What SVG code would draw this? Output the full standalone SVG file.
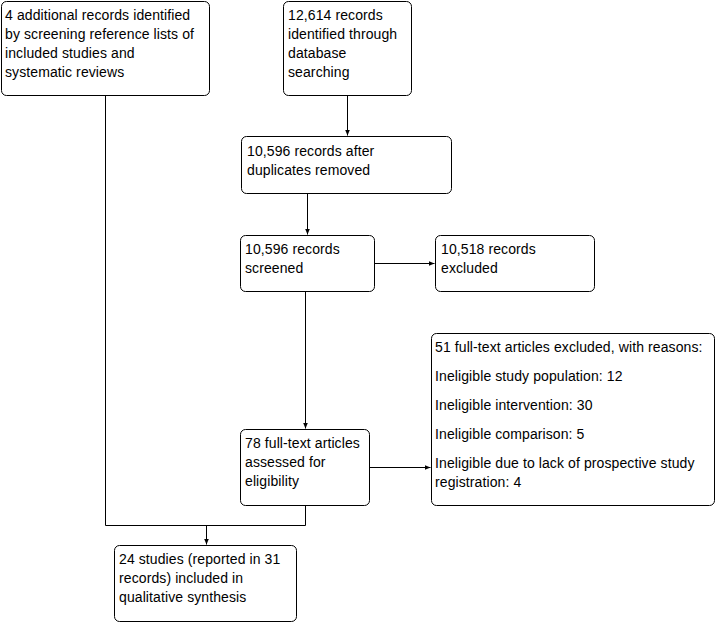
<svg xmlns="http://www.w3.org/2000/svg" width="716" height="623" viewBox="0 0 716 623">
<style>
.box{fill:#fff;stroke:#000;stroke-width:1}
.t{font-family:"Liberation Sans",Arial,sans-serif;font-size:14px;letter-spacing:0.1px;fill:#000}
.c{fill:none;stroke:#000;stroke-width:1}
</style>
<defs>
<marker id="ah" markerWidth="6" markerHeight="6" refX="6" refY="3" orient="auto" markerUnits="userSpaceOnUse">
<path d="M0,0.5 L6,3 L0,5.5 Z" fill="#000"/>
</marker>
</defs>
<rect width="716" height="623" fill="#fff"/>
<g id="connectors">
<path class="c" d="M347.5,95 V135.5" marker-end="url(#ah)"/>
<path class="c" d="M307.5,193 V234.5" marker-end="url(#ah)"/>
<path class="c" d="M374,263.5 H434.5" marker-end="url(#ah)"/>
<path class="c" d="M305.5,291 V428.5" marker-end="url(#ah)"/>
<path class="c" d="M369,467.5 H430.5" marker-end="url(#ah)"/>
<path class="c" d="M105.5,95 V525.5 H305.5 V505"/>
<path class="c" d="M206.5,525.5 V544.5" marker-end="url(#ah)"/>
</g>
<g id="n1">
<rect class="box" x="1.5" y="1.5" width="208" height="94" rx="5"/>
<text class="t" x="5" y="20">4 additional records identified</text>
<text class="t" x="5" y="39">by screening reference lists of</text>
<text class="t" x="5" y="58">included studies and</text>
<text class="t" x="5" y="77">systematic reviews</text>
</g>
<g id="n2">
<rect class="box" x="283.5" y="1.5" width="128" height="94" rx="5"/>
<text class="t" x="288" y="20">12,614 records</text>
<text class="t" x="288" y="39">identified through</text>
<text class="t" x="288" y="58">database</text>
<text class="t" x="288" y="77">searching</text>
</g>
<g id="n3">
<rect class="box" x="241.5" y="136.5" width="210" height="57" rx="5"/>
<text class="t" x="247" y="156">10,596 records after</text>
<text class="t" x="247" y="175">duplicates removed</text>
</g>
<g id="n4">
<rect class="box" x="240.5" y="235.5" width="134" height="56" rx="5"/>
<text class="t" x="245" y="254">10,596 records</text>
<text class="t" x="245" y="273">screened</text>
</g>
<g id="n5">
<rect class="box" x="435.5" y="235.5" width="159" height="56" rx="5"/>
<text class="t" x="441" y="254">10,518 records</text>
<text class="t" x="441" y="273">excluded</text>
</g>
<g id="n6">
<rect class="box" x="431.5" y="333.5" width="283" height="172" rx="5"/>
<text class="t" x="435" y="352">51 full-text articles excluded, with reasons:</text>
<text class="t" x="435" y="381">Ineligible study population: 12</text>
<text class="t" x="435" y="410">Ineligible intervention: 30</text>
<text class="t" x="435" y="439">Ineligible comparison: 5</text>
<text class="t" x="435" y="468">Ineligible due to lack of prospective study</text>
<text class="t" x="435" y="487">registration: 4</text>
</g>
<g id="n7">
<rect class="box" x="240.5" y="429.5" width="129" height="76" rx="5"/>
<text class="t" x="245" y="448">78 full-text articles</text>
<text class="t" x="245" y="467">assessed for</text>
<text class="t" x="245" y="486">eligibility</text>
</g>
<g id="n8">
<rect class="box" x="114.5" y="545.5" width="182" height="76" rx="5"/>
<text class="t" x="119" y="564">24 studies (reported in 31</text>
<text class="t" x="119" y="583">records) included in</text>
<text class="t" x="119" y="602">qualitative synthesis</text>
</g>
</svg>
